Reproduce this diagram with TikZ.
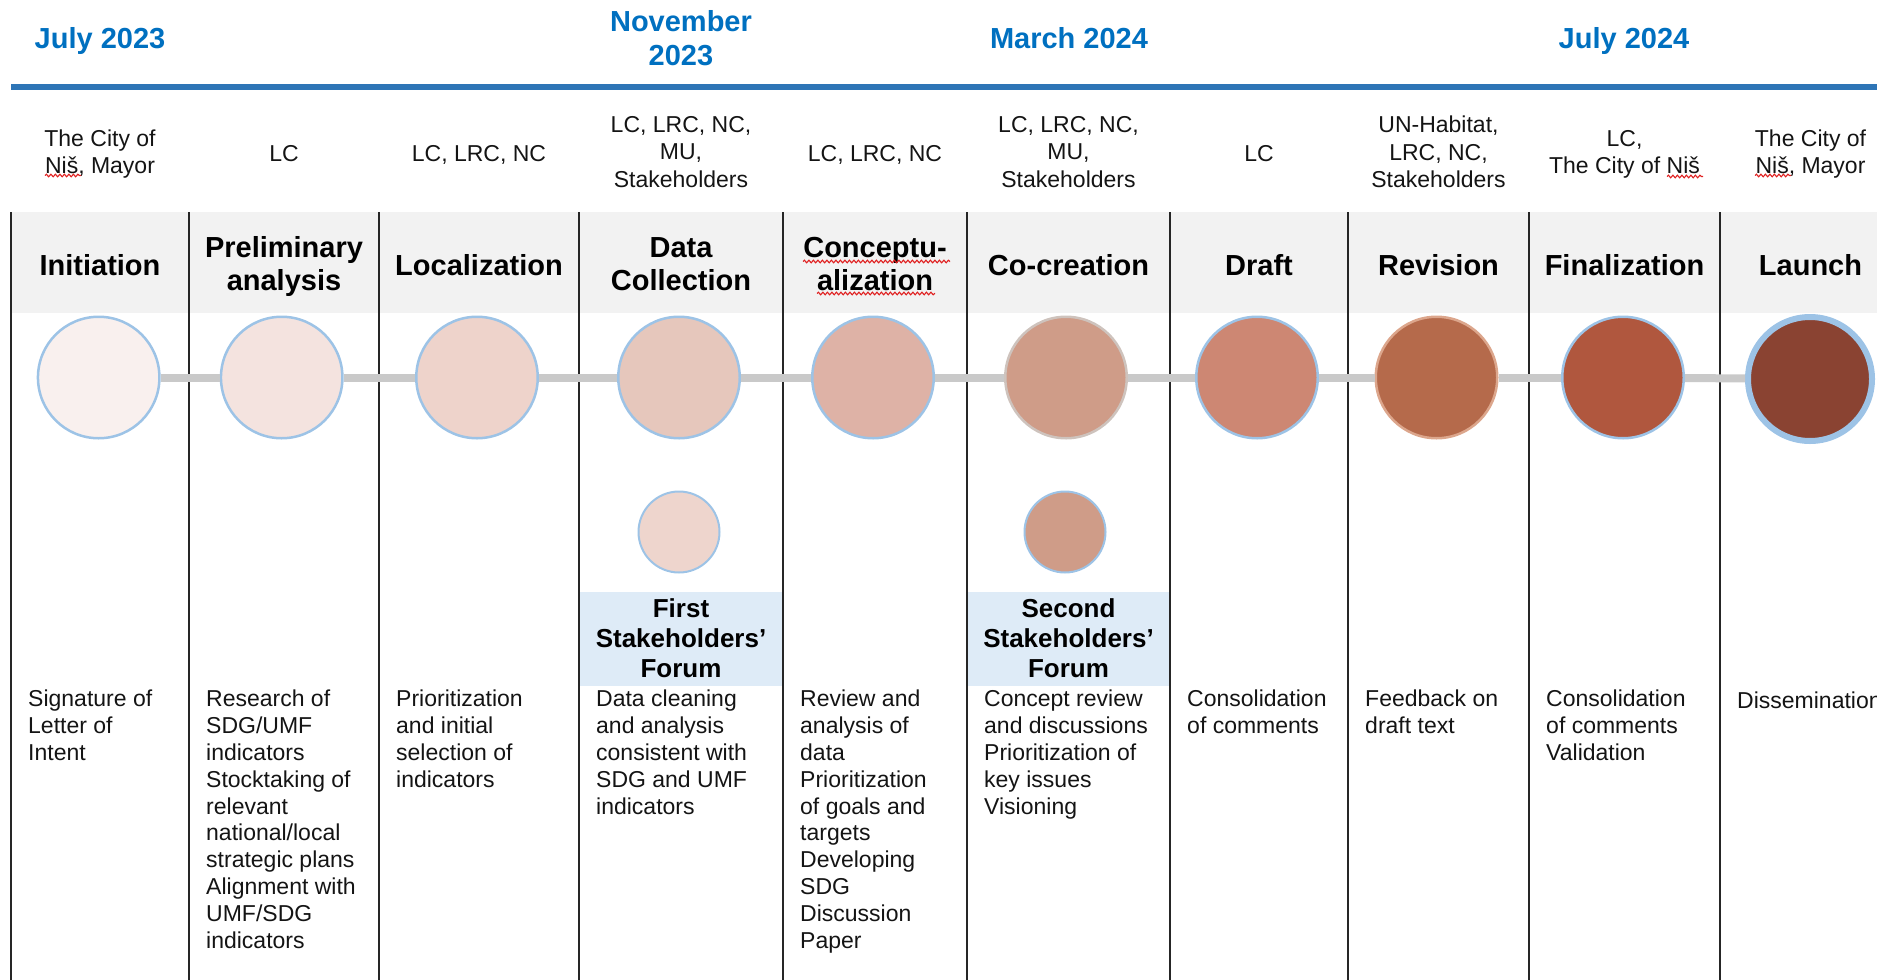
\documentclass[tikz,border=0pt]{standalone}
\usepackage{fontspec}
\setmainfont{Liberation Sans}
\usetikzlibrary{decorations.pathmorphing}
\definecolor{dateblue}{RGB}{0,112,192}
\definecolor{ruleblue}{RGB}{46,117,182}
\definecolor{bandgray}{RGB}{242,242,242}
\definecolor{forumblue}{RGB}{222,235,247}
\definecolor{ringblue}{RGB}{157,195,230}
\definecolor{linkgray}{RGB}{201,201,201}
\definecolor{txtdark}{RGB}{20,20,20}
\definecolor{stA}{RGB}{249,240,238}
\definecolor{stB}{RGB}{244,227,223}
\definecolor{stC}{RGB}{238,211,203}
\definecolor{stD}{RGB}{230,199,188}
\definecolor{stE}{RGB}{222,178,166}
\definecolor{stF}{RGB}{207,156,136}
\definecolor{stG}{RGB}{205,135,115}
\definecolor{stH}{RGB}{181,106,75}
\definecolor{stI}{RGB}{176,87,62}
\definecolor{stJ}{RGB}{138,67,50}
\definecolor{dotA}{RGB}{238,213,205}
\definecolor{ringgray}{RGB}{206,195,189}
\definecolor{ringtan}{RGB}{220,166,140}
\definecolor{squigred}{RGB}{224,32,32}
\begin{document}
\begin{tikzpicture}[x=1pt,y=-1pt,
  datelbl/.style={font=\bfseries\fontsize{29}{34}\selectfont, text=dateblue, align=center, inner sep=0, anchor=north, execute at begin node=\strut},
  rolelbl/.style={font=\fontsize{23}{27.3}\selectfont, text=txtdark, align=center, inner sep=0, execute at begin node=\strut, execute at end node=\strut},
  titlelbl/.style={font=\bfseries\fontsize{29}{33}\selectfont, text=black, align=center, inner sep=0, execute at begin node=\strut, execute at end node=\strut},
  desclbl/.style={font=\fontsize{23}{26.8}\selectfont, text=txtdark, align=left, inner sep=0, anchor=north west, execute at begin node=\strut},
  forumbox/.style={fill=forumblue, font=\bfseries\fontsize{26}{30}\selectfont, text=black, align=center, inner sep=0, minimum height=94pt},
  stage/.style={circle, inner sep=0, minimum size=121.5pt, line width=2.5pt, draw=ringblue},
  forumdot/.style={circle, inner sep=0, minimum size=81pt, line width=2pt, draw=ringblue},
  divider/.style={draw=black!85, line width=1.4pt},
  link/.style={draw=linkgray, line width=8pt},
  squig/.style={draw=squigred, line width=1.1pt, decorate, decoration={snake, amplitude=1.3pt, segment length=4.5pt}}
]
\useasboundingbox (0,0) rectangle (1877,980);
% header band and forum boxes
\fill[bandgray] (11,212) rectangle (1877,313);
\node[forumbox, minimum width=204pt] (f1) at (681,638.5) {First\\Stakeholders’\\Forum};
\node[forumbox, minimum width=203pt] (f2) at (1068.5,638.5) {Second\\Stakeholders’\\Forum};
% top rule
\draw[ruleblue, line width=5.5pt] (11,87) -- (1877,87);
% column dividers
\foreach \xx in {11,189,379,579,783,967,1170,1348,1529,1720}
  \draw[divider] (\xx,212) -- (\xx,980);
% dates
\node[datelbl] (d1) at (100,24) {July 2023};
\node[datelbl] (d2) at (681,10) {November\\2023};
\node[datelbl] (d3) at (1069,24) {March 2024};
\node[datelbl] (d4) at (1624,24) {July 2024};
% roles
\node[rolelbl] (r1) at (100,156) {The City of\\Niš, Mayor};
\node[rolelbl] (r2) at (284,156) {LC};
\node[rolelbl] (r3) at (479,156) {LC, LRC, NC};
\node[rolelbl] (r4) at (681,156) {LC, LRC, NC,\\MU,\\Stakeholders};
\node[rolelbl] (r5) at (875,156) {LC, LRC, NC};
\node[rolelbl] (r6) at (1068.5,156) {LC, LRC, NC,\\MU,\\Stakeholders};
\node[rolelbl] (r7) at (1259,156) {LC};
\node[rolelbl] (r8) at (1438.5,156) {UN-Habitat,\\LRC, NC,\\Stakeholders};
\node[rolelbl] (r9) at (1624.5,156) {LC,\\The City of Niš};
\node[rolelbl] (r10) at (1810.5,156) {The City of\\Niš, Mayor};
% titles
\node[titlelbl] (t1) at (100,268.5) {Initiation};
\node[titlelbl] (t2) at (284,268.5) {Preliminary\\analysis};
\node[titlelbl] (t3) at (479,268.5) {Localization};
\node[titlelbl] (t4) at (681,268.5) {Data\\Collection};
\node[titlelbl] (t5) at (875,268.5) {Conceptu-\\alization};
\node[titlelbl] (t6) at (1068.5,268.5) {Co-creation};
\node[titlelbl] (t7) at (1259,268.5) {Draft};
\node[titlelbl] (t8) at (1438.5,268.5) {Revision};
\node[titlelbl] (t9) at (1624.5,268.5) {Finalization};
\node[titlelbl] (t10) at (1810.5,268.5) {Launch};
% stage circles
\node[stage, fill=stA] (s1) at (98.7,377.5) {};
\node[stage, fill=stB] (s2) at (281.7,377.5) {};
\node[stage, fill=stC] (s3) at (477,377.5) {};
\node[stage, fill=stD] (s4) at (679,377.5) {};
\node[stage, fill=stE] (s5) at (873,377.5) {};
\node[stage, fill=stF, draw=ringgray] (s6) at (1066,377.5) {};
\node[stage, fill=stG] (s7) at (1257,377.5) {};
\node[stage, fill=stH, draw=ringtan] (s8) at (1436.5,377.5) {};
\node[stage, fill=stI] (s9) at (1623,377.5) {};
\node[stage, fill=stJ, line width=6pt, minimum size=124pt] (s10) at (1810,379) {};
\draw[link] (s1) -- (s2);
\draw[link] (s2) -- (s3);
\draw[link] (s3) -- (s4);
\draw[link] (s4) -- (s5);
\draw[link] (s5) -- (s6);
\draw[link] (s6) -- (s7);
\draw[link] (s7) -- (s8);
\draw[link] (s8) -- (s9);
\draw[link] (s9) -- (s10);
% forum dots
\node[forumdot, fill=dotA] (fd1) at (679,532) {};
\node[forumdot, fill=stF] (fd2) at (1065,532) {};
% descriptions
\node[desclbl] (x1) at (28,690) {Signature of\\Letter of\\Intent};
\node[desclbl] (x2) at (206,690) {Research of\\SDG/UMF\\indicators\\Stocktaking of\\relevant\\national/local\\strategic plans\\Alignment with\\UMF/SDG\\indicators};
\node[desclbl] (x3) at (396,690) {Prioritization\\and initial\\selection of\\indicators};
\node[desclbl] (x4) at (596,690) {Data cleaning\\and analysis\\consistent with\\SDG and UMF\\indicators};
\node[desclbl] (x5) at (800,690) {Review and\\analysis of\\data\\Prioritization\\of goals and\\targets\\Developing\\SDG\\Discussion\\Paper};
\node[desclbl] (x6) at (984,690) {Concept review\\and discussions\\Prioritization of\\key issues\\Visioning};
\node[desclbl] (x7) at (1187,690) {Consolidation\\of comments};
\node[desclbl] (x8) at (1365,690) {Feedback on\\draft text};
\node[desclbl] (x9) at (1546,690) {Consolidation\\of comments\\Validation};
\node[desclbl] (x10) at (1737,690) {Dissemination};
% spell-check underlines
\draw[squig] (45,175.5) -- (81,175.5);
\draw[squig] (1755,175.5) -- (1791,175.5);
\draw[squig] (1667,176.5) -- (1703,176.5);
\draw[squig] (803,261.5) -- (950,261.5);
\draw[squig] (817,293.5) -- (935,293.5);
\end{tikzpicture}
\end{document}
